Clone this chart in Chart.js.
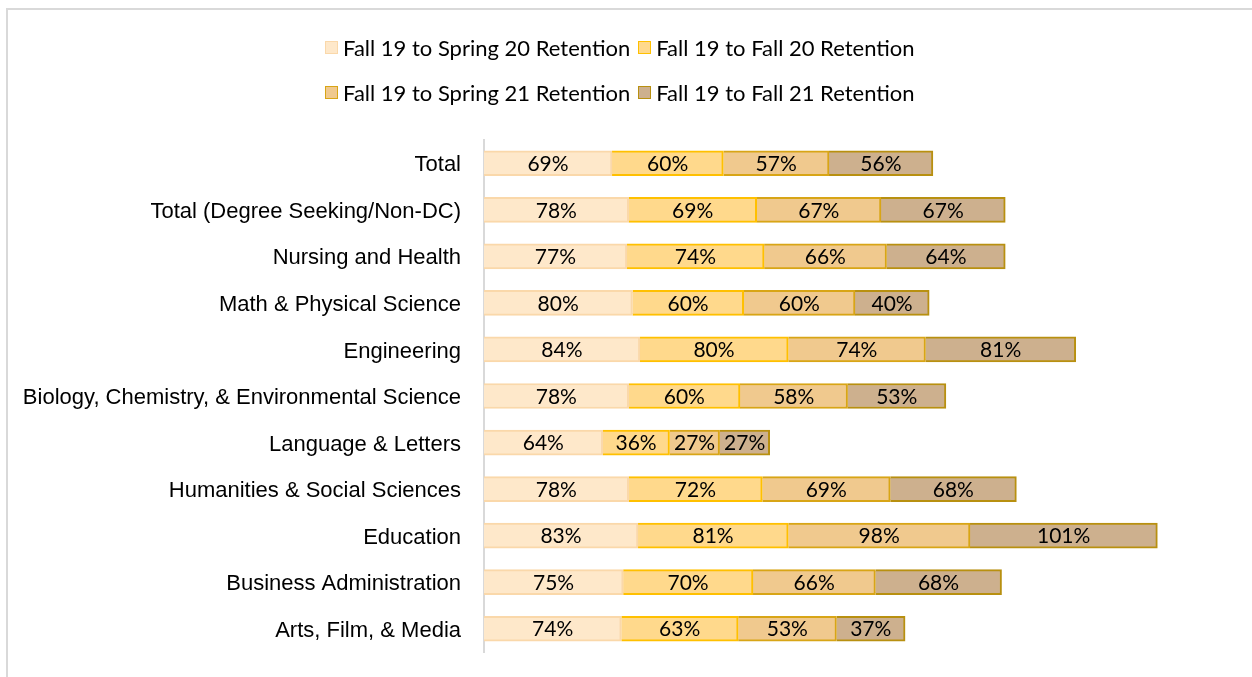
<!DOCTYPE html>
<html>
<head>
<meta charset="utf-8">
<script src="https://cdn.jsdelivr.net/npm/chart.js@4.4.0/dist/chart.umd.min.js"></script>
<style>
  body { margin: 0; background: #fff; }
  #wrap { position: relative; width: 1252px; height: 677px; overflow: hidden; }
  #frame { position: absolute; left: 6px; top: 8px; right: -5px; bottom: -5px;
           border-left: 2px solid #D9D9D9; border-top: 2px solid #D9D9D9; }
  .lrow { position: absolute; left: 325px; height: 26px; display: flex; align-items: center;
          font-family: Lato, sans-serif; font-size: 22px; color: #000; white-space: nowrap; }
  .item { display: flex; align-items: center; margin-right: 8px; }
  .box { width: 11px; height: 11px; border: 1.5px solid; margin-right: 5px; }
</style>
</head>
<body>
<div id="wrap">
  <canvas id="myChart"></canvas>
  <div id="frame"></div>
  <div id="legend"></div>
</div>
<script>
const categories = ['Total', 'Total (Degree Seeking/Non-DC)', 'Nursing and Health', 'Math & Physical Science',
    'Engineering', 'Biology, Chemistry, & Environmental Science', 'Language & Letters',
    'Humanities & Social Sciences', 'Education', 'Business Administration', 'Arts, Film, & Media'];

const spring20 = [69, 78, 77, 80, 84, 78, 64, 78, 83, 75, 74];
const fall20   = [60, 69, 74, 60, 80, 60, 36, 72, 81, 70, 63];
const spring21 = [57, 67, 66, 60, 74, 58, 27, 69, 98, 66, 53];
const fall21   = [56, 67, 64, 40, 81, 53, 27, 68, 101, 68, 37];

const seriesNames = ['Fall 19 to Spring 20 Retention', 'Fall 19 to Fall 20 Retention',
    'Fall 19 to Spring 21 Retention', 'Fall 19 to Fall 21 Retention'];
const fills   = ['#FEE8CA', '#FFD98C', '#F0C98E', '#CDB08E'];
const borders = ['#FAD8AA', '#FFC000', '#D8A516', '#B89010'];

// html legend, 2 per row like the excel one
const legend = document.getElementById('legend');
[[0, 1], [2, 3]].forEach(function(pair, r) {
    const row = document.createElement('div');
    row.className = 'lrow';
    row.style.top = (34 + r * 45) + 'px';
    pair.forEach(function(i) {
        const it = document.createElement('div');
        it.className = 'item';
        it.innerHTML = '<span class="box" style="background:' + fills[i] + ';border-color:' + borders[i] + '"></span>' + seriesNames[i];
        row.appendChild(it);
    });
    legend.appendChild(row);
});

// draws the % in the middle of each segment
const barLabels = {
    id: 'barLabels',
    afterDatasetsDraw(chart) {
        const ctx = chart.ctx;
        ctx.save();
        ctx.font = '21px Lato, sans-serif';
        ctx.fillStyle = '#000';
        ctx.textAlign = 'center';
        ctx.textBaseline = 'middle';
        chart.data.datasets.forEach(function(ds, i) {
            chart.getDatasetMeta(i).data.forEach(function(bar, j) {
                const p = bar.getCenterPoint();
                ctx.fillText(ds.data[j] + '%', p.x, p.y + 1);
            });
        });
        ctx.restore();
    }
};

const datasets = [spring20, fall20, spring21, fall21].map(function(vals, i) {
    return {
        label: seriesNames[i],
        data: vals,
        backgroundColor: fills[i],
        borderColor: borders[i],
        borderWidth: 2,
        barThickness: 25
    };
});

const ctx = document.getElementById('myChart');
new Chart(ctx, {
    type: 'bar',
    data: { labels: categories, datasets: datasets },
    options: {
        indexAxis: 'y',
        responsive: true,
        maintainAspectRatio: false,
        animation: false,
        layout: { padding: { top: 140, bottom: 25, left: 0, right: 26 } },
        plugins: {
            legend: { display: false },
            tooltip: { enabled: false }
        },
        scales: {
            x: { stacked: true, display: false, min: 0, max: 400 },
            y: {
                stacked: true,
                grid: { display: false, drawTicks: false },
                border: { display: true, color: '#D9D9D9', width: 2 },
                ticks: {
                    color: '#000',
                    padding: 23,
                    labelOffset: 2,
                    font: { family: 'Liberation Sans', size: 22 }
                },
                afterFit: function(scale) {
                    scale.width = 484;
                    // don't let the label padding eat into the bottom
                    scale.paddingTop = 0;
                    scale.paddingBottom = 0;
                }
            }
        }
    },
    plugins: [barLabels]
});
</script>
</body>
</html>
